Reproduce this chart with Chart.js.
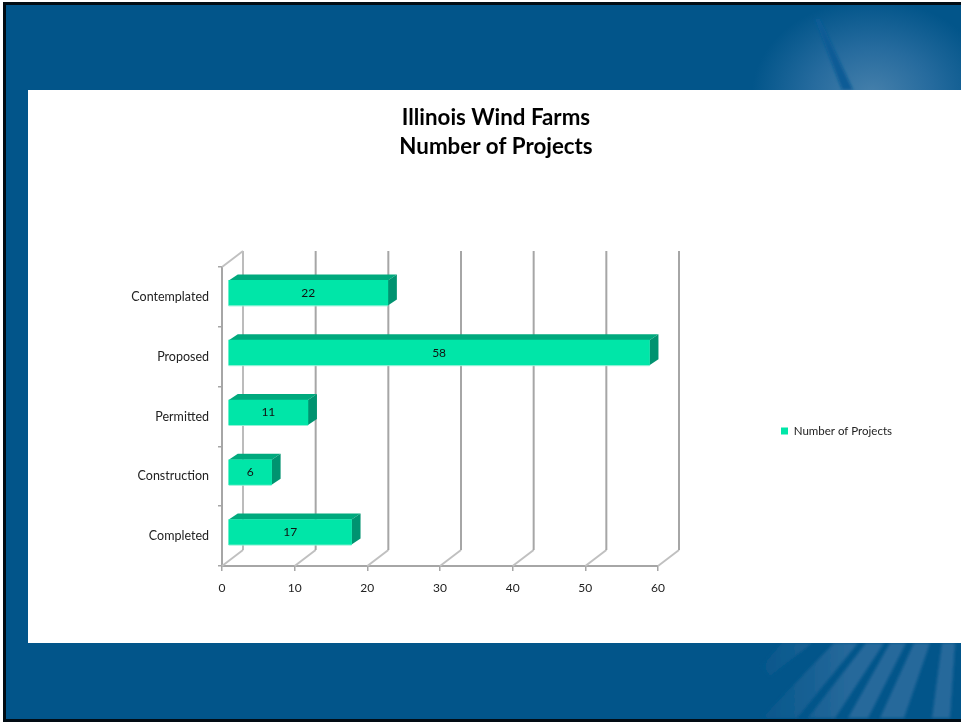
<!DOCTYPE html>
<html>
<head>
<meta charset="utf-8">
<title>Illinois Wind Farms</title>
<script src="https://cdn.jsdelivr.net/npm/chart.js@4"></script>
<style>
  html, body { margin: 0; padding: 0; width: 961px; height: 723px; overflow: hidden; background: #fff; }
  #art { position: absolute; left: 0; top: 0; }
  #panel { position: absolute; left: 28px; top: 90px; width: 933px; height: 553px; background: #fff; }
  #wrap { position: absolute; left: 0; top: 0; width: 961px; height: 723px; }
</style>
</head>
<body>
<svg id="art" width="961" height="723" xmlns="http://www.w3.org/2000/svg">
  <defs>
    <radialGradient id="glow" gradientUnits="userSpaceOnUse" cx="0" cy="0" r="1" gradientTransform="translate(872 95) scale(120 95)">
      <stop offset="0" stop-color="#4680ab"/>
      <stop offset=".5" stop-color="#266b9e"/>
      <stop offset="1" stop-color="#02558a"/>
    </radialGradient>
    <linearGradient id="streak" gradientUnits="userSpaceOnUse" x1="755" y1="0" x2="850" y2="0">
      <stop offset="0" stop-color="#02558a"/>
      <stop offset="1" stop-color="#27699b"/>
    </linearGradient>
    <filter id="soft" x="-10%" y="-10%" width="120%" height="120%">
      <feGaussianBlur stdDeviation="1.6"/>
    </filter>
  </defs>
  <rect x="3" y="2" width="958" height="720" fill="#02558a"/>
  <rect x="750" y="5" width="211" height="85" fill="url(#glow)"/>
  <polygon points="815,19 820,19 853,90 842,90" fill="#0a5c96" filter="url(#soft)"/>
  <g fill="url(#streak)" filter="url(#soft)">
    <polygon points="762,666 782,643 812,643 770,676"/>
    <polygon points="762,718 834,643 858,643 797,718"/>
    <polygon points="808,718 866,643 884,643 835,718"/>
    <polygon points="848,718 890,643 906,643 868,718"/>
    <polygon points="880,718 914,643 930,643 904,718"/>
    <polygon points="932,718 942,643 955,643 950,718"/>
  </g>
  <rect x="3" y="2" width="958" height="3" fill="#020c14"/>
  <rect x="3" y="2" width="3" height="720" fill="#020c14"/>
  <rect x="3" y="719" width="958" height="3" fill="#020c14"/>
</svg>
<div id="panel"></div>
<div id="wrap"><canvas id="chart" width="961" height="723"></canvas></div>
<script>
// dados
const categorias = ['Contemplated', 'Proposed', 'Permitted', 'Construction', 'Completed'];
const projetos = [22, 58, 11, 6, 17];
const ticksX = [0, 10, 20, 30, 40, 50, 60];

const fonte = "Lato, 'Open Sans', sans-serif";
const corBarra = '#00e6a8';
const corTopo = '#00a97d';
const corLado = '#009370';
const corBrilho = '#8ff2d6';
const corGrade = '#a6a6a6';

// deslocamentos do efeito 3D
const parede = { x: 21, y: -16 };
const barraDesl = { x: 6, y: -4 };
const barraFundo = { x: 9, y: -6 };

const legendaLargura = {
  id: 'legendaLargura',
  beforeInit(chart) {
    const fitOriginal = chart.legend.fit;
    chart.legend.fit = function () {
      fitOriginal.call(this);
      this.width = 303;
    };
  }
};

const paredes3d = {
  id: 'paredes3d',
  beforeDatasetsDraw(chart) {
    const { ctx, scales } = chart;
    const x = scales.x, y = scales.y;
    const topo = y.top, base = y.bottom;
    ctx.save();
    ctx.lineWidth = 2;
    ticksX.forEach((v, i) => {
      const px = x.getPixelForValue(v);
      // chao
      ctx.strokeStyle = '#c0c0c0';
      ctx.beginPath();
      ctx.moveTo(px, base);
      ctx.lineTo(px + parede.x, base + parede.y);
      ctx.stroke();
      // parede do fundo
      ctx.strokeStyle = corGrade;
      ctx.lineWidth = i === 0 ? 1.5 : 2;
      ctx.beginPath();
      ctx.moveTo(px + parede.x, base + parede.y);
      ctx.lineTo(px + parede.x, topo + parede.y);
      ctx.stroke();
      ctx.lineWidth = 2;
    });
    ctx.strokeStyle = '#c0c0c0';
    ctx.beginPath();
    ctx.moveTo(x.left, topo);
    ctx.lineTo(x.left + parede.x, topo + parede.y);
    ctx.stroke();
    ctx.restore();

    // barras deslocadas para frente da parede
    ctx.save();
    ctx.translate(barraDesl.x, barraDesl.y);
  },
  afterDatasetsDraw(chart) {
    const { ctx } = chart;
    const meta = chart.getDatasetMeta(0);
    // filete claro embaixo da barra
    ctx.fillStyle = corBrilho;
    meta.data.forEach(el => {
      ctx.fillRect(el.base, el.y + el.height / 2, el.x - el.base, 1);
    });
    ctx.restore();
    ctx.save();
    ctx.fillStyle = '#111';
    ctx.font = '12px ' + fonte;
    ctx.textAlign = 'center';
    ctx.textBaseline = 'middle';
    meta.data.forEach((el, i) => {
      ctx.fillText(String(projetos[i]), (el.x + el.base) / 2 + barraDesl.x, el.y + barraDesl.y);
    });
    ctx.restore();
  },
  beforeDatasetDraw(chart) {
    const { ctx } = chart;
    const meta = chart.getDatasetMeta(0);
    meta.data.forEach(el => {
      const t = el.y - el.height / 2;
      const b = el.y + el.height / 2;
      // topo
      ctx.fillStyle = corTopo;
      ctx.beginPath();
      ctx.moveTo(el.base, t);
      ctx.lineTo(el.base + barraFundo.x, t + barraFundo.y);
      ctx.lineTo(el.x + barraFundo.x, t + barraFundo.y);
      ctx.lineTo(el.x, t);
      ctx.closePath();
      ctx.fill();
      // lado
      ctx.fillStyle = corLado;
      ctx.beginPath();
      ctx.moveTo(el.x, t);
      ctx.lineTo(el.x + barraFundo.x, t + barraFundo.y);
      ctx.lineTo(el.x + barraFundo.x, b + barraFundo.y);
      ctx.lineTo(el.x, b);
      ctx.closePath();
      ctx.fill();
    });
  }
};

new Chart(document.getElementById('chart'), {
  type: 'bar',
  data: {
    labels: categorias,
    datasets: [{
      label: 'Number of Projects',
      data: projetos,
      backgroundColor: corBarra,
      borderWidth: 0,
      barThickness: 25
    }]
  },
  plugins: [legendaLargura, paredes3d],
  options: {
    indexAxis: 'y',
    responsive: false,
    animation: false,
    devicePixelRatio: 1,
    layout: { padding: { left: 31, top: 103, right: 0, bottom: -36 } },
    plugins: {
      tooltip: { enabled: false },
      title: {
        display: true,
        text: ['Illinois Wind Farms', 'Number of Projects'],
        color: '#000',
        font: { family: fonte, size: 22.3, weight: 'bold', lineHeight: 1.3 },
        padding: { top: 0, bottom: 106 }
      },
      legend: {
        position: 'right',
        align: 'center',
        labels: {
          boxWidth: 7,
          boxHeight: 7,
          padding: 123,
          color: '#222',
          font: { family: fonte, size: 11.5 }
        }
      }
    },
    scales: {
      x: {
        min: 0,
        max: 60,
        afterFit(s) { s.height = 193; },
        afterBuildTicks(s) { s.ticks = ticksX.map(v => ({ value: v })); },
        border: { color: corGrade, width: 2 },
        grid: { drawOnChartArea: false, drawTicks: true, tickLength: 5, color: corGrade, lineWidth: 1.5 },
        ticks: { color: '#222', font: { family: fonte, size: 12 }, padding: 10, maxRotation: 0 }
      },
      y: {
        afterFit(s) { s.width = 191; },
        border: { color: corGrade, width: 2 },
        grid: { drawOnChartArea: false, drawTicks: true, tickLength: 4, color: corGrade, lineWidth: 1.5 },
        ticks: { color: '#222', font: { family: fonte, size: 12.5 }, padding: 9 }
      }
    }
  }
});
</script>
</body>
</html>
